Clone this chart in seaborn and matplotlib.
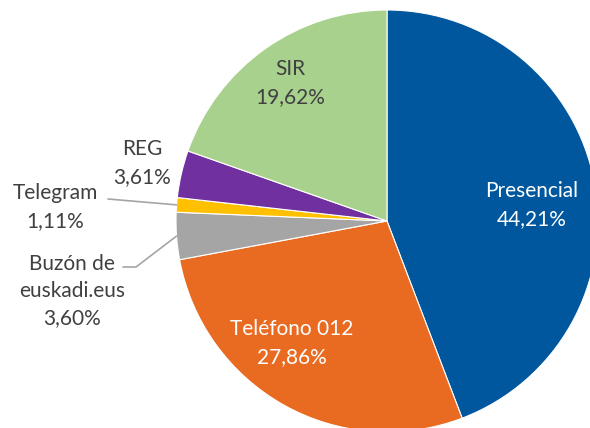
import numpy as np
import matplotlib
matplotlib.use("Agg")
from matplotlib import pyplot as plt
import seaborn as sns

# datos del gráfico (porcentajes por canal)
canales = ["Presencial", "Teléfono 012", "Buzón de\neuskadi.eus", "Telegram", "REG", "SIR"]
porcentajes = [44.21, 27.86, 3.60, 1.11, 3.61, 19.62]
colores = ["#00579E", "#E96B22", "#A5A5A5", "#FFC000", "#7030A0", "#A9D18E"]

sns.set_theme(style="white")
plt.rcParams['font.family'] = ['Lato', 'DejaVu Sans']

fig = plt.figure(figsize=(5.9, 4.28), dpi=100)
ax = fig.add_axes([0, 0, 1, 1])

cx, cy, R = 387, 207, 211
wedges, _ = ax.pie(porcentajes, colors=sns.color_palette(colores), startangle=90,
                   counterclock=False, center=(cx, cy), radius=R,
                   wedgeprops=dict(linewidth=0.8, edgecolor="white"))
ax.set_xlim(0, 590)
ax.set_ylim(0, 428)
ax.set_aspect("equal")
ax.axis("off")

# posiciones de las etiquetas (px) y color del texto
pos_etiquetas = [(532, 223), (292, 85), (72, 137), (55, 221), (142, 265), (290, 345)]
color_texto = ["white", "white", "#404040", "#404040", "#404040", "#404040"]

for i, w in enumerate(wedges):
    txt = "{}\n{}%".format(canales[i], ("%.2f" % porcentajes[i]).replace(".", ","))
    ax.text(pos_etiquetas[i][0], pos_etiquetas[i][1], txt, ha="center", va="center",
            fontsize=15, color=color_texto[i], linespacing=1.45)

# líneas guía para los sectores pequeños
def borde(w):
    ang = np.deg2rad((w.theta1 + w.theta2) / 2)
    return cx + R * np.cos(ang), cy + R * np.sin(ang)

bx, by = borde(wedges[3])
ax.plot([108, bx], [229, by], color="#A5A5A5", lw=1.2)
bx, by = borde(wedges[2])
ax.plot([123, 136, bx], [161, 161, by], color="#A5A5A5", lw=1.2)

plt.savefig("out.png", dpi=100)
